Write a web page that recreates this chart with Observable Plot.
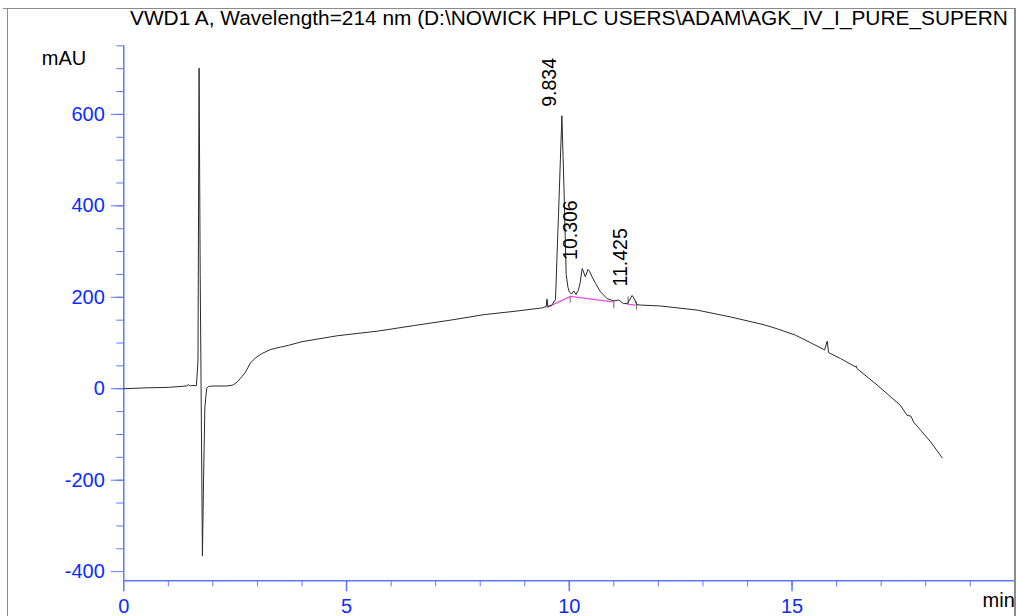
<!DOCTYPE html>
<html>
<head>
<meta charset="utf-8">
<script src="https://cdn.jsdelivr.net/npm/d3@7"></script>
<script src="https://cdn.jsdelivr.net/npm/@observablehq/plot@0.6"></script>
<style>
  html, body { margin: 0; padding: 0; background: #fff; }
  #wrap { position: relative; width: 1017px; height: 616px; overflow: hidden; font-family: "Liberation Sans", Arial, sans-serif; }
  #title { position: absolute; left: 130px; top: 6px; white-space: nowrap; font-size: 20.85px; color: #000; }
  .bord { position: absolute; background: #8c8c8c; }
</style>
</head>
<body>
<div id="wrap">
  <div id="chart"></div>
  <div id="title"></div>
  <div class="bord" style="left:3px; top:8px; width:1013px; height:1px;"></div>
  <div class="bord" style="left:7px; top:8px; width:1px; height:608px;"></div>
  <div class="bord" style="left:1014px; top:8px; width:2px; height:608px;"></div>
</div>
<script>
// ---- data ----
const titleText = "VWD1 A, Wavelength=214 nm (D:\\NOWICK HPLC USERS\\ADAM\\AGK_IV_I_PURE_SUPERN";
const yUnit = "mAU";
const xUnit = "min";

const time = [0, 0.5, 1.0, 1.4, 1.46, 1.49, 1.53, 1.63, 1.665, 1.69, 1.715, 1.74, 1.765, 1.79, 1.82, 1.86, 1.9, 2.0, 2.3, 2.45, 2.55, 2.62, 2.73, 2.84, 2.95, 3.1, 3.3, 3.52, 3.7, 4.0, 4.8, 5.7, 6.5, 7.33, 8.08, 8.83, 9.4, 9.48, 9.5, 9.52, 9.6, 9.69, 9.75, 9.834, 9.88, 9.93, 9.97, 10.0, 10.05, 10.1, 10.15, 10.2, 10.24, 10.29, 10.36, 10.42, 10.46, 10.51, 10.59, 10.70, 10.85, 11.0, 11.11, 11.22, 11.31, 11.41, 11.46, 11.51, 11.6, 12.05, 12.87, 13.62, 14.37, 14.67, 15.08, 15.41, 15.73, 15.79, 15.82, 16.09, 16.42, 16.44, 16.46, 16.91, 17.43, 17.58, 17.67, 17.73, 18.11, 18.37];
const signal = [0, 2, 3, 6, 9, 6, 7, 7, 60, 701, 250, -60, -366, -200, -40, 0, 5, 6, 6, 8, 15, 23, 36, 56, 67, 77, 86, 91, 95, 103, 116, 126, 138, 150, 162, 170, 177, 180, 195, 180, 182, 195, 360, 597, 440, 250, 222, 212, 207, 214, 206, 215, 230, 263, 245, 261, 256, 245, 230, 212, 197, 192, 194, 186, 187, 204, 197, 184, 183, 181, 172, 157, 140, 131, 117, 101, 85, 104, 79, 66, 48, 50, 44, 8, -36, -58, -60, -73, -116, -151];

// integration baselines (magenta)
const baseTime = [9.50, 10.03, 10.96, 11.30, 11.48];
const baseValue = [178, 202, 190, 185, 183];
const baseSeg = [1, 1, 1, 2, 2];

// peak start/end markers
const markTime = [9.50, 10.02, 11.0, 11.32, 11.51];
const markLo = [178, 187, 175, 183, 172];
const markHi = [196, 202, 192, 201, 190];

// peak labels
const peakTime = [9.834, 10.306, 11.425];
const peakHeight = [597, 262, 204];
const peakLabel = ["9.834", "10.306", "11.425"];

const xMajor = [0, 5, 10, 15];
const xMinor = d3.range(1, 20);
const yMajor = [-400, -200, 0, 200, 400, 600];
const yMinor = d3.range(-350, 751, 50);

// ---- build ----
const trace = time.map((t, i) => ({t, v: signal[i]}));
const base = baseTime.map((t, i) => ({t, v: baseValue[i], s: baseSeg[i]}));
const marks = markTime.map((t, i) => ({t, lo: markLo[i], hi: markHi[i]}));
const peaks = peakTime.map((t, i) => ({t, h: peakHeight[i], label: peakLabel[i]}));

const axisColor = "#5b78ff";
const labelColor = "#0b2cff";
const font = "Liberation Sans, Arial, sans-serif";

const chart = Plot.plot({
  width: 1017,
  height: 616,
  marginLeft: 123.3,
  marginRight: 2.7,
  marginTop: 45.3,
  marginBottom: 35.7,
  style: {background: "#fff", fontFamily: font, overflow: "visible"},
  x: {domain: [0, 20], label: null},
  y: {domain: [-420, 750], label: null},
  marks: [
    Plot.axisX(xMinor, {tickSize: 6, text: null, label: null, stroke: axisColor}),
    Plot.axisX(xMajor, {tickSize: 11, tickPadding: 7, label: null, stroke: axisColor, strokeWidth: 1.5, fill: labelColor, fontSize: 20, tickFormat: d => d}),
    Plot.axisY(yMinor, {tickSize: 7, text: null, label: null, stroke: axisColor}),
    Plot.axisY(yMajor, {tickSize: 12.5, tickPadding: 6.5, label: null, stroke: axisColor, fill: labelColor, fontSize: 20, tickFormat: d => d}),
    Plot.ruleY([-420], {stroke: axisColor, strokeWidth: 1.5}),
    Plot.ruleX([0], {stroke: axisColor, strokeWidth: 1.5}),
    Plot.ruleX(marks, {x: "t", y1: "lo", y2: "hi", stroke: "#666", strokeWidth: 1}),
    Plot.line(base, {x: "t", y: "v", z: "s", stroke: "#e64fe6", strokeWidth: 1.2}),
    Plot.line(trace, {x: "t", y: "v", stroke: "#2b2b2b", strokeWidth: 1}),
    Plot.text(peaks, {x: "t", y: "h", text: "label", rotate: -90, textAnchor: "start", dx: -12, dy: -9, fontSize: 19.5, fill: "#000"}),
    Plot.text([yUnit], {frameAnchor: "top-left", text: d => d, dx: -82, dy: 5, fontSize: 20, fill: "#000", textAnchor: "start"}),
    Plot.text([xUnit], {frameAnchor: "bottom-right", text: d => d, dx: 0, dy: 26, fontSize: 20, fill: "#000", textAnchor: "end"})
  ]
});
document.getElementById("chart").appendChild(chart);
document.getElementById("title").textContent = titleText;
</script>
</body>
</html>
